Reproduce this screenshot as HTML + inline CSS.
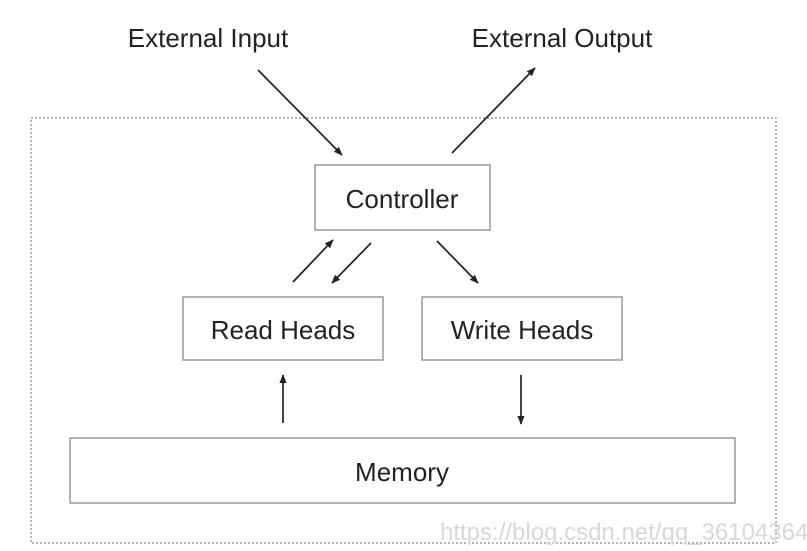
<!DOCTYPE html>
<html><head><style>
html,body{margin:0;padding:0;background:#fff;}
svg{display:block;}
text{font-family:"Liberation Sans",Arial,sans-serif;fill:#222;}
</style></head><body>
<svg width="807" height="551" viewBox="0 0 807 551" xmlns="http://www.w3.org/2000/svg">
<defs>
<marker id="a" viewBox="0 0 10 10" refX="9" refY="5" markerWidth="9" markerHeight="9" orient="auto-start-reverse" markerUnits="userSpaceOnUse">
<path d="M0,1 L10,5 L0,9 z" fill="#222"/></marker>
</defs>
<rect x="31" y="118" width="745" height="425" fill="none" stroke="#888" stroke-width="1.2" stroke-dasharray="2,2"/>
<text x="208" y="47" font-size="26" text-anchor="middle">External Input</text>
<text x="562" y="47" font-size="26" text-anchor="middle">External Output</text>
<g stroke="#222" stroke-width="1.7" fill="none">
<line x1="258" y1="70" x2="342" y2="155" marker-end="url(#a)"/>
<line x1="452" y1="153" x2="535" y2="68" marker-end="url(#a)"/>
<line x1="293" y1="282" x2="333" y2="240" marker-end="url(#a)"/>
<line x1="371" y1="243" x2="332" y2="283" marker-end="url(#a)"/>
<line x1="437" y1="241" x2="478" y2="283" marker-end="url(#a)"/>
<line x1="283" y1="423" x2="283" y2="375" marker-end="url(#a)"/>
<line x1="521" y1="375" x2="521" y2="424" marker-end="url(#a)"/>
</g>
<g fill="#fff" stroke="#999" stroke-width="1.5">
<rect x="315" y="165" width="175" height="65"/>
<rect x="183" y="297" width="200" height="63"/>
<rect x="422" y="297" width="200" height="63"/>
<rect x="70" y="438" width="665" height="65"/>
</g>
<text x="402" y="208" font-size="26" text-anchor="middle">Controller</text>
<text x="283" y="339" font-size="26" text-anchor="middle">Read Heads</text>
<text x="522" y="339" font-size="26" text-anchor="middle">Write Heads</text>
<text x="402" y="481" font-size="26" text-anchor="middle">Memory</text>
<text x="440" y="540" font-size="24" style="fill:#d8d8d8">https://blog.csdn.net/qq_36104364</text>
</svg>
</body></html>
